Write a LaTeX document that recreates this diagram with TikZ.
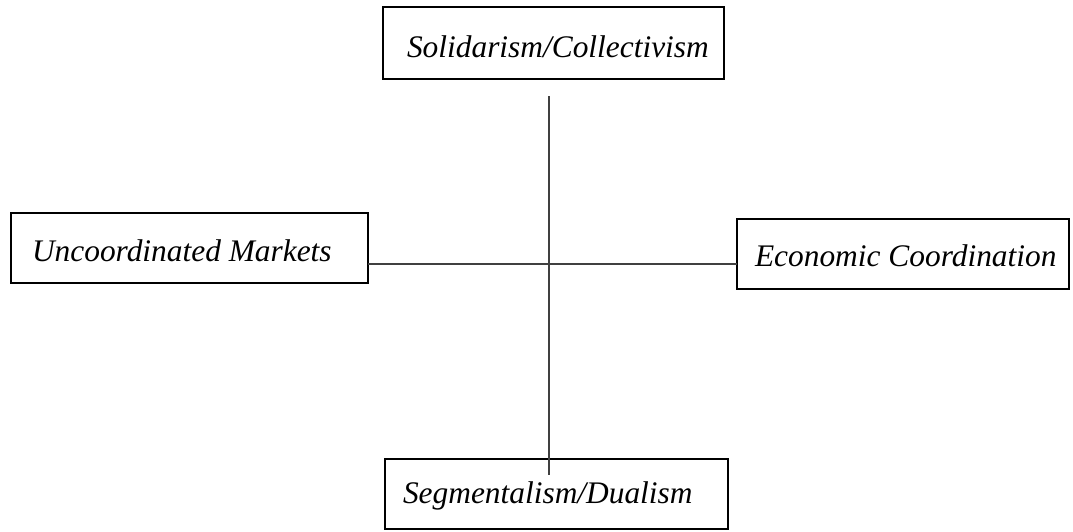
\documentclass[tikz,border=0pt]{standalone}
\usepackage{fontspec}
\setmainfont{Liberation Serif}
\begin{document}
\begin{tikzpicture}[x=1pt,y=1pt,
  box/.style={draw=black, line width=2pt, inner sep=0pt, outer sep=0pt},
  lbl/.style={inner sep=0pt, outer sep=0pt, anchor=base west, font=\itshape\fontsize{31.4}{37}\selectfont},
  axis/.style={draw=black!75, line width=1.1pt}]
\useasboundingbox (0,0) rectangle (1073,-531);
% frames of the four poles
\node[box, minimum width=341pt, minimum height=72pt] (top) at (553.5,-43) {};
\node[box, minimum width=357pt, minimum height=70pt] (left) at (189.5,-248) {};
\node[box, minimum width=332pt, minimum height=70pt] (right) at (903,-254) {};
\node[box, minimum width=343pt, minimum height=70pt] (bottom) at (556.5,-494) {};
% pole labels
\node[lbl] (toptext) at (407,-57) {Solidarism/Collectivism};
\node[lbl] (lefttext) at (32,-261) {Uncoordinated Markets};
\node[lbl] (righttext) at (755,-266) {Economic Coordination};
\node[lbl] (bottomtext) at (403,-503) {Segmentalism/Dualism};
% axes
\coordinate (vtop) at (549,-96);
\coordinate (vbot) at (549,-475);
\draw[axis] (vtop) -- (vbot);
\draw[axis] (left.east |- 0,-264) -- (right.west |- 0,-264);
\end{tikzpicture}
\end{document}
